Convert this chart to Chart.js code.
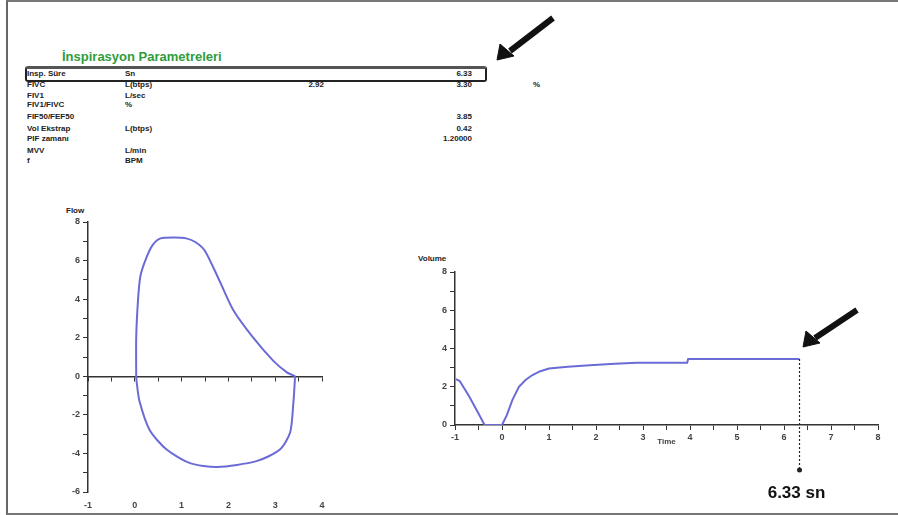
<!DOCTYPE html>
<html>
<head>
<meta charset="utf-8">
<script src="https://cdn.jsdelivr.net/npm/chart.js@4.4.0/dist/chart.umd.min.js"></script>
<style>
  body { margin: 0; background: #fff; font-family: "Liberation Sans", Arial, sans-serif; }
  #page { position: relative; width: 898px; height: 515px; overflow: hidden; }
  #frame { position: absolute; left: 6px; top: 0; width: 900px; height: 511px;
           border-left: 2px solid #666; border-top: 2px solid #777; border-bottom: 2px solid #777; }
  .t { position: absolute; font-size: 8px; font-weight: bold; color: #222; white-space: nowrap; line-height: 9px; }
  .r { text-align: right; }
  #title { position: absolute; left: 62px; top: 49px; font-size: 13px; font-weight: bold; color: #2f9c3c; }
  #hl { position: absolute; left: 25px; top: 66px; width: 458px; height: 11px;
        border: 2px solid #222; border-top: 3px solid #555; border-radius: 3px; }
  canvas { position: absolute; }
  svg { position: absolute; left: 0; top: 0; }
</style>
</head>
<body>
<div id="page">
  <div id="frame"></div>
  <div id="title">İnspirasyon Parametreleri</div>
  <div id="hl"></div>
  <div id="table"></div>
  <div class="t" style="left:66px;top:206px;">Flow</div>
  <div class="t" style="left:418px;top:254px;">Volume</div>
  <canvas id="flowChart" width="300" height="310" style="left:40px;top:200px;"></canvas>
  <canvas id="volChart" width="495" height="265" style="left:400px;top:240px;"></canvas>
  <svg width="898" height="515">
    <g fill="#111" stroke="#111">
      <line x1="553" y1="18" x2="510" y2="51" stroke-width="6" />
      <polygon points="497,60 500,44 514,56" stroke-width="1" />
      <line x1="857" y1="310" x2="815" y2="338" stroke-width="6" />
      <polygon points="803,347 806,331 820,343" stroke-width="1" />
    </g>
  </svg>
</div>
<script>
// parameter table
const paramNames = ["Insp. Süre", "FIVC", "FIV1", "FIV1/FIVC", "FIF50/FEF50", "Vol Ekstrap", "PIF zamanı", "MVV", "f"];
const paramUnits = ["Sn", "L(btps)", "L/sec", "%", "", "L(btps)", "", "L/min", "BPM"];
const paramPred = ["", "2.92", "", "", "", "", "", "", ""];
const paramValues = ["6.33", "3.30", "", "", "3.85", "0.42", "1.20000", "", ""];
const paramPct = ["", "%", "", "", "", "", "", "", ""];

// flow-volume loop (L, L/s)
const loopVolume = [0.03, 0.03, 0.07, 0.12, 0.24, 0.38, 0.55, 0.85, 1.10, 1.30, 1.50, 1.82, 2.10, 2.53, 2.96, 3.25, 3.38, 3.42,
                    3.41, 3.39, 3.32, 3.10, 2.60, 1.76, 1.18, 0.68, 0.32, 0.10, 0.04, 0.03];
const loopFlow = [0, 2.0, 4.0, 5.2, 6.1, 6.8, 7.15, 7.2, 7.15, 6.95, 6.5, 4.9, 3.45, 2.0, 0.8, 0.2, 0.05, 0,
                  -0.6, -1.33, -2.9, -3.8, -4.4, -4.7, -4.5, -3.8, -2.8, -1.3, -0.3, 0];

// volume-time curve (s, L)
const timeSec = [-0.98, -0.9, -0.7, -0.5, -0.37, -0.2, 0, 0.1, 0.22, 0.36, 0.5, 0.64, 0.8, 1.0, 1.4, 1.87, 2.4, 2.87, 3.5, 3.94, 3.96, 5.0, 6.33];
const volumeL = [2.4, 2.3, 1.5, 0.6, 0, 0, 0, 0.5, 1.3, 2.0, 2.35, 2.6, 2.8, 2.95, 3.05, 3.12, 3.2, 3.25, 3.26, 3.26, 3.45, 3.45, 3.45];
const endTime = 6.33;
const endLabel = "6.33 sn";

const rowY = [69, 80, 91, 100, 112, 124, 134, 146, 156];
const table = document.getElementById("table");
rowY.forEach((y, i) => {
  const add = (txt, left, right) => {
    if (!txt) return;
    const d = document.createElement("div");
    d.className = "t" + (right ? " r" : "");
    d.style.top = y + "px";
    if (right) { d.style.left = (left - 80) + "px"; d.style.width = "80px"; }
    else d.style.left = left + "px";
    d.textContent = txt;
    table.appendChild(d);
  };
  add(paramNames[i], 27, false);
  add(paramUnits[i], 125, false);
  add(paramPred[i], 324, true);
  add(paramValues[i], 472, true);
  add(paramPct[i], 533, false);
});

const lineColor = "#6b6bd6";
const axisColor = "#333";
const tickFont = { family: "Liberation Sans", size: 9, weight: "bold" };

new Chart(document.getElementById("flowChart"), {
  type: "scatter",
  data: {
    datasets: [{
      data: loopVolume.map((v, i) => ({ x: v, y: loopFlow[i] })),
      showLine: true,
      borderColor: lineColor,
      borderWidth: 2,
      pointRadius: 0,
      tension: 0.25
    }]
  },
  options: {
    responsive: false,
    animation: false,
    layout: { padding: { top: 22, right: 18, left: 0, bottom: 0 } },
    plugins: { legend: { display: false }, tooltip: { enabled: false } },
    scales: {
      x: {
        type: "linear", min: -1, max: 4, position: { y: 0 },
        ticks: { stepSize: 0.5, callback: () => "" },
        grid: { drawOnChartArea: false, tickLength: 4, color: axisColor },
        border: { color: axisColor, width: 1.5 }
      },
      xl: {
        type: "linear", min: -1, max: 4, position: "bottom",
        ticks: { stepSize: 1, font: tickFont, color: "#444", padding: 0 },
        grid: { display: false },
        border: { display: false },
        afterFit: s => { s.height = 18; }
      },
      y: {
        min: -6, max: 8,
        ticks: { stepSize: 1, font: tickFont, color: "#444", padding: 3,
                 callback: v => (v % 2 === 0 ? v : "") },
        grid: { drawOnChartArea: false, tickLength: 5, color: axisColor },
        border: { color: axisColor, width: 1.5 },
        afterFit: s => { s.width = 48; }
      }
    }
  }
});

const endMarker = {
  id: "endMarker",
  afterDatasetsDraw(chart) {
    const { ctx, scales, chartArea } = chart;
    const x = scales.x.getPixelForValue(endTime);
    const yTop = scales.y.getPixelForValue(volumeL[volumeL.length - 1]);
    const yBot = chartArea.bottom + 45;
    ctx.save();
    ctx.strokeStyle = "#222";
    ctx.lineWidth = 1.2;
    ctx.setLineDash([2, 2]);
    ctx.beginPath();
    ctx.moveTo(x, yTop);
    ctx.lineTo(x, yBot);
    ctx.stroke();
    ctx.setLineDash([]);
    ctx.fillStyle = "#222";
    ctx.beginPath();
    ctx.arc(x, yBot, 2.5, 0, Math.PI * 2);
    ctx.fill();
    ctx.font = "bold 17px 'Liberation Sans'";
    ctx.textAlign = "center";
    ctx.textBaseline = "middle";
    ctx.fillStyle = "#111";
    ctx.fillText(endLabel, x - 3, yBot + 23);
    ctx.restore();
  }
};

new Chart(document.getElementById("volChart"), {
  type: "scatter",
  data: {
    datasets: [{
      data: timeSec.map((t, i) => ({ x: t, y: volumeL[i] })),
      showLine: true,
      borderColor: lineColor,
      borderWidth: 2,
      pointRadius: 0,
      tension: 0
    }]
  },
  options: {
    responsive: false,
    animation: false,
    layout: { padding: { top: 32, right: 17, left: 0, bottom: 58 } },
    plugins: { legend: { display: false }, tooltip: { enabled: false } },
    scales: {
      x: {
        type: "linear", min: -1, max: 8, position: "bottom",
        ticks: { stepSize: 0.5, font: tickFont, color: "#444", padding: 2, autoSkip: false, maxRotation: 0,
                 callback: v => (Number.isInteger(v) ? v : "") },
        grid: { drawOnChartArea: false, tickLength: 5, color: axisColor },
        border: { color: axisColor, width: 1.5 },
        title: { display: true, text: "Time", font: { family: "Liberation Sans", size: 8, weight: "bold" }, color: "#444", padding: 0 },
        afterFit: s => { s.height = 22; }
      },
      y: {
        min: 0, max: 8,
        ticks: { stepSize: 1, font: tickFont, color: "#444", padding: 3,
                 callback: v => (v % 2 === 0 ? v : "") },
        grid: { drawOnChartArea: false, tickLength: 5, color: axisColor },
        border: { color: axisColor, width: 1.5 },
        afterFit: s => { s.width = 55; }
      }
    }
  },
  plugins: [endMarker]
});
</script>
</body>
</html>
